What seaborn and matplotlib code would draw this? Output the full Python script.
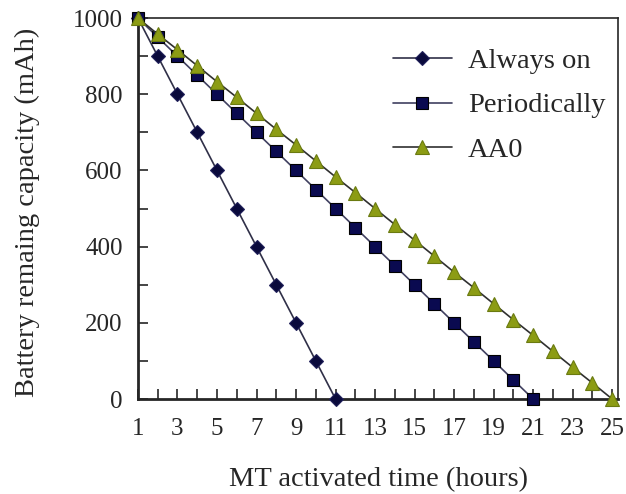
import numpy as np
import pandas as pd
import seaborn as sns
import matplotlib.pyplot as plt
from matplotlib.ticker import MultipleLocator

# valores
horas_always = [1, 2, 3, 4, 5, 6, 7, 8, 9, 10, 11]
cap_always = [1000, 900, 800, 700, 600, 500, 400, 300, 200, 100, 0]

horas_period = list(range(1, 22))
cap_period = [1000, 950, 900, 850, 800, 750, 700, 650, 600, 550, 500,
              450, 400, 350, 300, 250, 200, 150, 100, 50, 0]

horas_aa0 = list(range(1, 26))
cap_aa0 = [1000, 958, 917, 875, 833, 792, 750, 708, 667, 625, 583, 542, 500,
           458, 417, 375, 333, 292, 250, 208, 167, 125, 83, 42, 0]

xticks = [1, 3, 5, 7, 9, 11, 13, 15, 17, 19, 21, 23, 25]

dados = pd.concat([
    pd.DataFrame({'x': horas_always, 'y': cap_always, 's': 'Always on'}),
    pd.DataFrame({'x': horas_period, 'y': cap_period, 's': 'Periodically'}),
    pd.DataFrame({'x': horas_aa0, 'y': cap_aa0, 's': 'AA0'}),
])

sns.set_style('ticks')
plt.rcParams['font.family'] = ['Liberation Serif', 'DejaVu Serif']

fig = plt.figure(figsize=(6.26, 4.94), dpi=100)
ax = fig.add_axes([0.2204, 0.1923, 0.767, 0.771])

estilos = {
    'Always on': dict(marker='D', ms=7, mfc='#0a0a3c', mec='#20205a', color='#303048'),
    'Periodically': dict(marker='s', ms=8.5, mfc='#0a0a50', mec='#000000', color='#404060'),
    'AA0': dict(marker='^', ms=9.5, mfc='#8c9c14', mec='#6a7a10', color='#303030'),
}
for nome, st in estilos.items():
    d = dados[dados['s'] == nome]
    sns.lineplot(data=d, x='x', y='y', ax=ax, label=nome, lw=1.2,
                 markeredgewidth=0.8, clip_on=False, zorder=3, **st)

ax.set_xlim(1, 25.3)
ax.set_ylim(0, 1000)
ax.set_xticks(xticks)
ax.xaxis.set_minor_locator(MultipleLocator(1))
ax.yaxis.set_major_locator(MultipleLocator(200))
ax.yaxis.set_minor_locator(MultipleLocator(100))
ax.tick_params(which='both', direction='in', labelsize=18, width=1.2, length=7)
ax.tick_params(axis='x', pad=14)
ax.tick_params(axis='y', pad=11)
for sp in ax.spines.values():
    sp.set_linewidth(1.2)
ax.spines['left'].set_linewidth(2)
ax.spines['bottom'].set_linewidth(2)

ax.set_xlabel('MT activated time (hours)', fontsize=20.5)
ax.set_ylabel('Battery remaing capacity (mAh)', fontsize=20.5)
ax.xaxis.set_label_coords(0.5, -0.178)
ax.yaxis.set_label_coords(-0.205, 0.49)

ax.legend(loc='upper left', bbox_to_anchor=(0.531, 0.922), frameon=False,
          fontsize=20.5, handlelength=2.07, handletextpad=0.56,
          labelspacing=0.66, borderaxespad=0, borderpad=0)

plt.savefig('out.png', dpi=100)
